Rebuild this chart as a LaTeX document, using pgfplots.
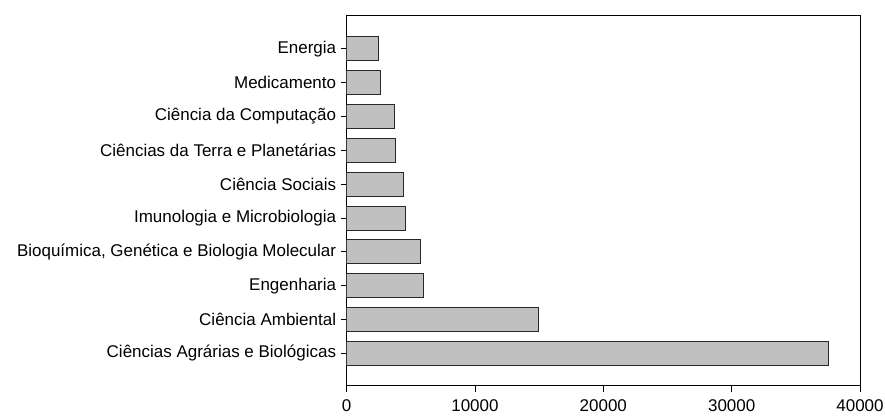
\documentclass[border=0pt]{standalone}
\usepackage{pgfplots}
\pgfplotsset{compat=1.18}
\usepackage{fontspec}
\setmainfont{Liberation Sans}
\definecolor{barfill}{RGB}{192,192,192}
\definecolor{baredge}{RGB}{40,40,40}
\begin{document}
\begin{tikzpicture}
\useasboundingbox (-347pt,-33pt) rectangle (539pt,386pt);
\begin{axis}[
  at={(0pt,0pt)}, anchor=south west,
  scale only axis,
  width=514pt, height=371pt,
  xmin=0, xmax=40000,
  ymin=-0.95, ymax=10.0,
  xbar, bar width=24pt,
  xtick={0,10000,20000,30000,40000},
  ytick={0,1,2,3,4,5,6,7,8,9},
  yticklabels={Ciências Agrárias e Biológicas, Ciência Ambiental, Engenharia, {Bioquímica, Genética e Biologia Molecular}, Imunologia e Microbiologia, Ciência Sociais, Ciências da Terra e Planetárias, Ciência da Computação, Medicamento, Energia},
  xtick pos=bottom, ytick pos=left,
  tick align=outside,
  major tick length=6pt,
  scaled x ticks=false,
  /pgf/number format/assume math mode=true,
  /pgf/number format/1000 sep={},
  tick label style={font=\fontsize{17}{19}\selectfont},
  yticklabel style={xshift=-1pt},
  xticklabel style={yshift=-7pt, inner sep=1pt},
  axis line style={black, line width=0.9pt},
  tick style={black, line width=0.9pt},
]
\addplot[fill=barfill, draw=baredge, line width=0.9pt] coordinates {
  (37540,0) (14950,1) (5970,2) (5740,3) (4570,4) (4440,5) (3820,6) (3690,7) (2620,8) (2500,9)
};
\end{axis}
\end{tikzpicture}
\end{document}
